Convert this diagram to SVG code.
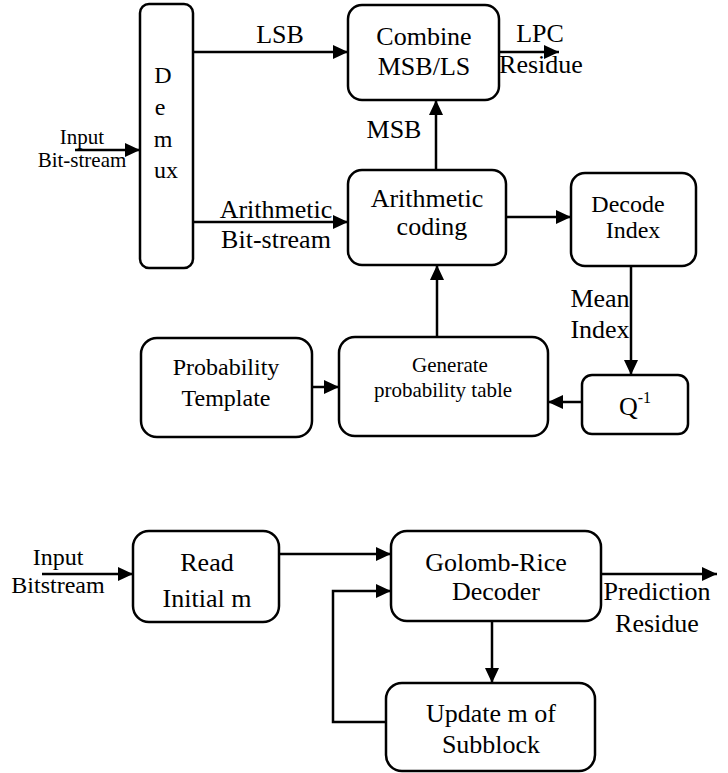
<svg xmlns="http://www.w3.org/2000/svg" width="728" height="773" viewBox="0 0 728 773" font-family="'Liberation Serif', 'DejaVu Serif', 'Times New Roman', serif">
<style>
.box{fill:#fff;stroke:#000;stroke-width:2.5}
.ln{fill:none;stroke:#000;stroke-width:2.5}
.arr{marker-end:url(#ah)}
text{font-family:'Liberation Serif','DejaVu Serif','Times New Roman',serif;fill:#000;text-anchor:middle}
.f26{font-size:26px}
.f24{font-size:24px}
.f21{font-size:21px}
</style>
<defs>
<marker id="ah" markerUnits="userSpaceOnUse" markerWidth="16" markerHeight="14" refX="15" refY="7" orient="auto">
<path d="M0,0 L15,7 L0,14 z" fill="#000"/>
</marker>
</defs>
<rect width="728" height="773" fill="#fff"/>
<g id="connectors">
<line class="ln arr" x1="193" y1="52" x2="348" y2="52"/>
<line class="ln arr" x1="193" y1="222" x2="348" y2="222"/>
<line class="ln arr" x1="75" y1="150" x2="140" y2="150"/>
<line class="ln arr" x1="499" y1="52" x2="559" y2="52"/>
<line class="ln arr" x1="436" y1="170" x2="436" y2="100"/>
<line class="ln arr" x1="506" y1="217" x2="571" y2="217"/>
<line class="ln arr" x1="437" y1="337" x2="437" y2="265"/>
<line class="ln arr" x1="631" y1="266" x2="631" y2="375"/>
<line class="ln arr" x1="312" y1="387" x2="339" y2="387"/>
<line class="ln arr" x1="582" y1="402" x2="548" y2="402"/>
<line class="ln arr" x1="42" y1="574" x2="133" y2="574"/>
<line class="ln arr" x1="279" y1="554" x2="391" y2="554"/>
<polyline class="ln arr" points="386,722 333,722 333,591 391,591"/>
<line class="ln arr" x1="601" y1="574" x2="717" y2="574"/>
<line class="ln arr" x1="492" y1="621" x2="492" y2="683"/>
<text class="f26" x="280" y="43">LSB</text>
<text class="f26" x="276" y="218">Arithmetic</text>
<text class="f26" x="276" y="248">Bit-stream</text>
<text class="f21" x="82" y="144">Input</text>
<text class="f21" x="82" y="167">Bit-stream</text>
<text class="f26" x="540" y="42">LPC</text>
<text class="f26" x="541" y="73">Residue</text>
<text class="f26" x="394" y="138">MSB</text>
<text class="f26" x="600" y="307">Mean</text>
<text class="f26" x="600" y="338">Index</text>
<text class="f24" x="58" y="565">Input</text>
<text class="f24" x="58" y="593">Bitstream</text>
<text class="f26" x="657" y="600">Prediction</text>
<text class="f26" x="657" y="632">Residue</text>
</g>
<g id="demux">
<rect class="box" x="140" y="4" width="53" height="264" rx="9"/>
<text class="f24" x="163" y="83">D</text>
<text class="f24" x="160" y="115">e</text>
<text class="f24" x="163" y="147">m</text>
<text class="f24" x="166" y="178">ux</text>
</g>
<g id="combine">
<rect class="box" x="348" y="5" width="151" height="95" rx="14"/>
<text class="f26" x="424" y="45">Combine</text>
<text class="f26" x="424" y="75">MSB/LS</text>
</g>
<g id="arith">
<rect class="box" x="348" y="170" width="158" height="95" rx="14"/>
<text class="f26" x="427" y="207">Arithmetic</text>
<text class="f26" x="432" y="235">coding</text>
</g>
<g id="decode">
<rect class="box" x="571" y="173" width="125" height="93" rx="14"/>
<text class="f24" x="628" y="212">Decode</text>
<text class="f24" x="633" y="238">Index</text>
</g>
<g id="probtemplate">
<rect class="box" x="141" y="338" width="171" height="99" rx="16"/>
<text class="f24" x="226" y="375">Probability</text>
<text class="f24" x="226" y="406">Template</text>
</g>
<g id="genprob">
<rect class="box" x="339" y="337" width="209" height="99" rx="16"/>
<text class="f21" x="450" y="372">Generate</text>
<text class="f21" x="443" y="397">probability table</text>
</g>
<g id="qinv">
<rect class="box" x="582" y="375" width="106" height="59" rx="10"/>
<text class="f26" x="635" y="415">Q<tspan font-size="16" dy="-12">-1</tspan></text>
</g>
<g id="readm">
<rect class="box" x="133" y="531" width="146" height="91" rx="16"/>
<text class="f26" x="207" y="571">Read</text>
<text class="f26" x="207" y="607">Initial m</text>
</g>
<g id="golomb">
<rect class="box" x="391" y="531" width="210" height="90" rx="16"/>
<text class="f26" x="496" y="571">Golomb-Rice</text>
<text class="f26" x="496" y="600">Decoder</text>
</g>
<g id="update">
<rect class="box" x="386" y="683" width="209" height="88" rx="16"/>
<text class="f26" x="491" y="722">Update m of</text>
<text class="f26" x="491" y="753">Subblock</text>
</g>
</svg>
